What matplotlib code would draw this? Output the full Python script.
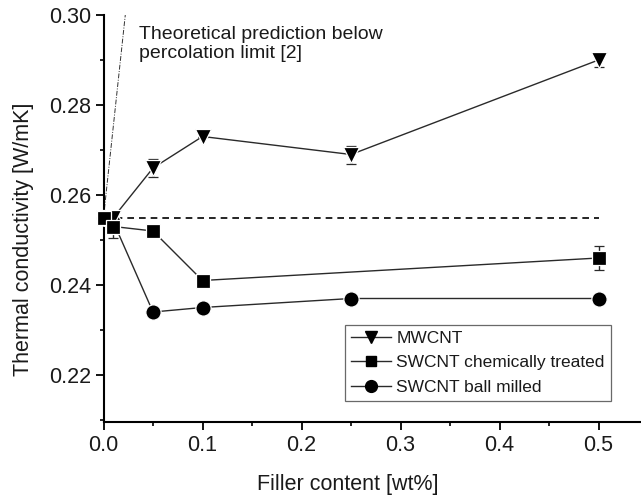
import matplotlib
matplotlib.use("Agg")
import matplotlib.pyplot as plt
from matplotlib.lines import Line2D
from matplotlib.ticker import MultipleLocator

plt.rcParams['font.family'] = ['Liberation Sans', 'DejaVu Sans']

# Thermal conductivity vs. filler loading
mw_x = [0.0, 0.01, 0.05, 0.1, 0.25, 0.5]
mw_y = [0.255, 0.255, 0.266, 0.273, 0.269, 0.290]
mw_err = [0.0, 0.0, 0.002, 0.0, 0.002, 0.0015]

sw_chem_x = [0.0, 0.01, 0.05, 0.1, 0.5]
sw_chem_y = [0.255, 0.253, 0.252, 0.241, 0.246]
sw_chem_err = [0.0, 0.0025, 0.0, 0.0, 0.0026]

sw_ball_x = [0.0, 0.01, 0.05, 0.1, 0.25, 0.5]
sw_ball_y = [0.255, 0.254, 0.234, 0.235, 0.237, 0.237]

neat_level = 0.255
theory_x = [0.0, 0.022]
theory_y = [0.255, 0.300]

series_labels = ['MWCNT', 'SWCNT chemically treated', 'SWCNT ball milled']

fig = plt.figure(figsize=(6.41, 4.98), dpi=100)
W, H = 641, 498
x0, x1 = 103.5, 641
y_top, y_bot = 15, 422
px_per_x = 990.0
px_per_y = 4500.0
ax = fig.add_axes([x0 / W, 1 - y_bot / H, (x1 - x0) / W, (y_bot - y_top) / H])

ink = '#1a1a1a'
line_kw = dict(color='#2a2a2a', lw=1.0, clip_on=False, zorder=3)
mark_kw = dict(mfc='black', mec='white', mew=0.9)
err_kw = dict(ecolor='#2a2a2a', elinewidth=1.0, capsize=3.5, capthick=1.0)

ax.errorbar(mw_x, mw_y, yerr=mw_err, marker='v', ms=11, **mark_kw, **err_kw, **line_kw)
ax.errorbar(sw_chem_x, sw_chem_y, yerr=sw_chem_err, marker='s', ms=9.5, **mark_kw, **err_kw, **line_kw)
ax.plot(sw_ball_x, sw_ball_y, marker='o', ms=11, **mark_kw, **line_kw)

ax.plot([0.0, 0.5], [neat_level, neat_level], color='black', lw=1.2,
        linestyle=(0, (4, 3)), zorder=2)
ax.plot(theory_x, theory_y, color='#333333', lw=0.7, linestyle=(0, (5, 1.5, 1, 1.5)), zorder=2)

ax.text((139 - x0) / px_per_x, 0.30 - (26 - y_top) / px_per_y,
        'Theoretical prediction below\npercolation limit [2]',
        fontsize=14, color=ink, va='top', ha='left', linespacing=1.15)

ax.set_xlim(0.0, (x1 - x0) / px_per_x)
ax.set_ylim(0.30 - (y_bot - y_top) / px_per_y, 0.30)

ax.xaxis.set_major_locator(MultipleLocator(0.1))
ax.xaxis.set_minor_locator(MultipleLocator(0.05))
ax.yaxis.set_major_locator(MultipleLocator(0.02))
ax.yaxis.set_minor_locator(MultipleLocator(0.01))
ax.xaxis.set_major_formatter(plt.FormatStrFormatter('%.1f'))
ax.yaxis.set_major_formatter(plt.FormatStrFormatter('%.2f'))

for s in ('top', 'right'):
    ax.spines[s].set_visible(False)
for s in ('left', 'bottom'):
    ax.spines[s].set_linewidth(1.5)
    ax.spines[s].set_color('black')

ax.tick_params(which='major', direction='out', length=5.5, width=1.3, labelsize=15.5,
               colors='black', labelcolor=ink, pad=3.5)
ax.tick_params(which='minor', direction='out', length=3.2, width=1.2, colors='black')

ax.set_xlabel('Filler content [wt%]', fontsize=15.5, color=ink, va='center')
ax.xaxis.set_label_coords((348 - x0) / (x1 - x0), (y_bot - 484) / (y_bot - y_top))
ax.set_ylabel('Thermal conductivity [W/mK]', fontsize=15.5, color=ink, va='center')
ax.yaxis.set_label_coords((24 - x0) / (x1 - x0), 1 - (239.5 - y_top) / (y_bot - y_top))

handles = [
    Line2D([], [], color='#2a2a2a', lw=1.0, marker='v', ms=9, mfc='black', mec='black'),
    Line2D([], [], color='#2a2a2a', lw=1.0, marker='s', ms=7.5, mfc='black', mec='black'),
    Line2D([], [], color='#2a2a2a', lw=1.0, marker='o', ms=8.5, mfc='black', mec='black'),
]
leg = ax.legend(handles, series_labels, loc='upper left',
                bbox_to_anchor=((345 - x0) / (x1 - x0), 1 - (325 - y_top) / (y_bot - y_top)),
                fontsize=12.5, frameon=True, fancybox=False, edgecolor='#444444',
                handlelength=2.3, handletextpad=0.3, borderpad=0.35, labelspacing=0.52,
                borderaxespad=0.0)
leg.get_frame().set_linewidth(0.9)
for t in leg.get_texts():
    t.set_color(ink)

fig.savefig('out.png', dpi=100)
